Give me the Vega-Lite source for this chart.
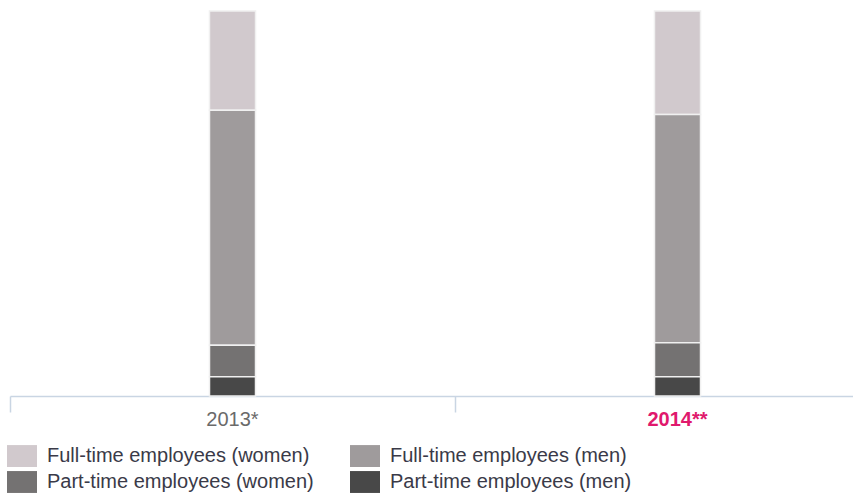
{
  "$schema": "https://vega.github.io/schema/vega-lite/v6.json",
  "width": 843,
  "height": 385,
  "autosize": "none",
  "padding": {"left": 10, "top": 11, "right": 0, "bottom": 97},
  "background": "white",
  "config": {"view": {"stroke": null}},
  "data": {
    "values": [
      {"year": "2013*", "category": "Full-time employees (women)", "value": 25.8},
      {"year": "2013*", "category": "Full-time employees (men)", "value": 61.0},
      {"year": "2013*", "category": "Part-time employees (women)", "value": 8.2},
      {"year": "2013*", "category": "Part-time employees (men)", "value": 5.0},
      {"year": "2014**", "category": "Full-time employees (women)", "value": 26.9},
      {"year": "2014**", "category": "Full-time employees (men)", "value": 59.3},
      {"year": "2014**", "category": "Part-time employees (women)", "value": 8.8},
      {"year": "2014**", "category": "Part-time employees (men)", "value": 5.0}
    ]
  },
  "transform": [
    {"calculate": "indexof(['Part-time employees (men)', 'Part-time employees (women)', 'Full-time employees (men)', 'Full-time employees (women)'], datum.category)", "as": "stackKey"}
  ],
  "mark": {"type": "bar", "size": 46, "stroke": "#f0f0f0", "strokeWidth": 1.5},
  "encoding": {
    "x": {
      "field": "year",
      "type": "nominal",
      "sort": null,
      "scale": {"range": [0, 890], "paddingInner": 0, "paddingOuter": 0},
      "axis": {
        "title": null,
        "domainColor": "#c9d5e3",
        "domainWidth": 1.5,
        "tickColor": "#c9d5e3",
        "tickWidth": 1.5,
        "tickSize": 16,
        "bandPosition": 0,
        "labelAngle": 0,
        "labelFont": "Liberation Sans",
        "labelFontSize": 20,
        "labelBaseline": "top",
        "labelPadding": -3,
        "labelColor": {"condition": {"test": "datum.value === '2014**'", "value": "#e0196d"}, "value": "#6a6a6a"},
        "labelFontWeight": {"condition": {"test": "datum.value === '2014**'", "value": "bold"}, "value": "normal"}
      }
    },
    "y": {
      "field": "value",
      "type": "quantitative",
      "scale": {"domain": [0, 100], "nice": false},
      "axis": null
    },
    "color": {
      "field": "category",
      "type": "nominal",
      "scale": {
        "domain": ["Full-time employees (women)", "Full-time employees (men)", "Part-time employees (women)", "Part-time employees (men)"],
        "range": ["#d1c9cd", "#9f9b9c", "#747272", "#484848"]
      },
      "legend": {
        "title": null,
        "orient": "none",
        "legendX": -3,
        "legendY": 430,
        "columns": 2,
        "direction": "horizontal",
        "symbolType": "M-1,-0.73L1,-0.73L1,0.73L-1,0.73Z",
        "symbolSize": 900,
        "symbolStrokeWidth": 0,
        "labelFont": "Liberation Sans",
        "labelFontSize": 20,
        "labelColor": "#3a3a48",
        "labelOffset": 10,
        "labelLimit": 400,
        "rowPadding": -11,
        "columnPadding": 36
      }
    },
    "order": {"field": "stackKey", "type": "quantitative", "sort": "ascending"}
  }
}
